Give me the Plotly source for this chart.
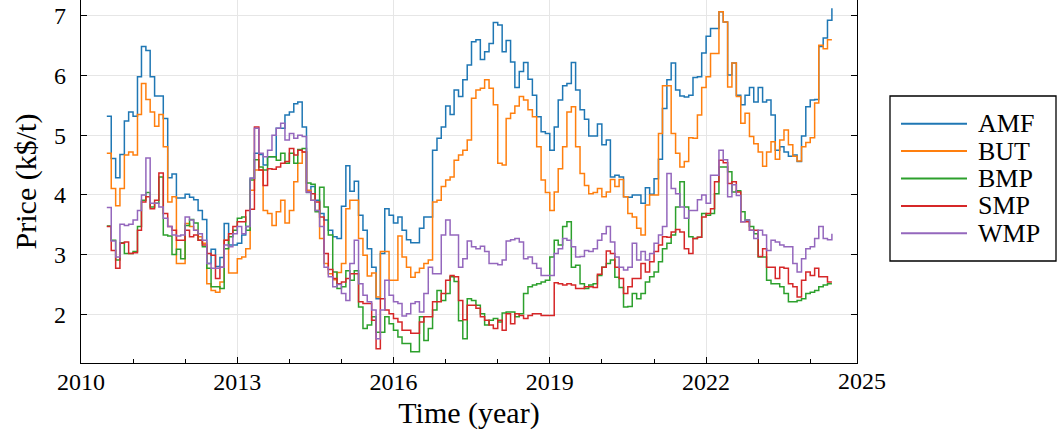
import pandas as pd
import plotly.graph_objects as go

# Monthly dairy commodity prices (k$/t), July 2010 to June 2024
START_MONTH = "2010-07-01"

amf = [5.32, 4.61, 4.29, 4.68, 5.24, 5.39, 5.32, 5.98, 6.49, 6.42, 5.98, 5.66, 5.66, 5.28, 4.29, 4.35, 3.95, 3.95, 4.01, 3.96, 3.92, 3.74, 3.59, 2.85, 3.09,
       2.80, 2.95, 3.52, 3.16, 3.16, 3.19, 3.33, 3.47, 4.28, 4.70, 4.68, 4.50, 4.64, 4.64, 5.12, 5.12, 5.34, 5.39, 5.53, 5.56, 5.14, 4.04, 4.14, 3.91, 3.69, 3.58, 3.41, 3.30, 3.27,
       3.81, 4.49, 4.06, 4.23, 3.66, 3.41, 3.10, 2.79, 2.26, 3.02, 3.77, 3.66, 3.53, 3.63, 3.41, 3.25, 3.20, 3.20, 3.44, 3.63, 3.63, 4.75, 4.95, 5.14, 5.49, 5.35, 5.76, 5.65, 5.93,
       6.18, 6.57, 6.60, 6.27, 6.40, 6.54, 6.89, 6.85, 6.40, 6.59, 6.23, 5.80, 6.07, 6.22, 5.94, 5.67, 5.31, 5.06, 5.03, 4.75, 5.14, 5.59, 5.83, 5.87, 6.22, 5.76, 5.43, 5.27,
       4.99, 4.99, 5.19, 4.84, 4.92, 4.30, 4.33, 4.30, 3.97, 3.96, 4.00, 4.00, 3.86, 4.12, 4.01, 4.27, 4.60, 5.45, 5.93, 6.21, 5.76, 5.66, 5.64, 5.67, 5.97, 5.98, 6.38, 6.66, 6.79,
       6.79, 7.07, 6.90, 6.01, 6.21, 5.67, 5.51, 5.67, 5.80, 5.56, 5.80, 5.56, 5.59, 5.34, 4.75, 4.81, 4.72, 4.65, 4.67, 4.56, 4.99, 5.48, 5.59, 5.60, 6.49, 6.63, 6.93, 7.13]

but = [4.70, 4.11, 3.82, 4.11, 4.67, 4.72, 4.67, 5.35, 5.87, 5.60, 5.39, 5.15, 5.35, 4.81, 3.88, 3.97, 2.85, 2.85, 3.52, 3.47, 3.41, 3.30, 3.19, 2.51, 2.40,
       2.37, 2.54, 3.24, 2.69, 2.69, 2.93, 2.96, 3.10, 4.08, 4.42, 4.42, 3.74, 3.69, 3.49, 3.72, 3.91, 3.53, 3.74, 4.22, 4.53, 4.72, 4.08, 3.91, 3.74, 3.27, 2.85, 2.68, 2.58, 2.70,
       2.85, 3.77, 3.91, 3.91, 3.27, 2.99, 2.64, 2.69, 2.29, 3.05, 3.05, 2.57, 2.57, 3.31, 2.96, 2.79, 2.62, 2.70, 2.77, 2.85, 2.91, 3.88, 3.91, 4.14, 4.25, 4.30, 4.58, 4.67, 4.75,
       4.92, 5.62, 5.76, 5.79, 5.93, 5.79, 5.51, 4.53, 4.50, 5.28, 5.37, 5.49, 5.65, 5.59, 5.43, 5.31, 4.81, 4.25, 4.04, 3.74, 4.05, 4.44, 4.81, 5.39, 5.48, 4.81, 4.36, 4.16,
       4.02, 4.04, 4.11, 3.97, 4.05, 4.26, 4.14, 4.26, 3.97, 3.69, 3.63, 3.44, 3.33, 3.83, 4.00, 4.00, 5.03, 5.83, 5.83, 5.03, 4.70, 4.47, 4.56, 4.96, 4.95, 5.34, 5.80, 5.98, 6.37,
       6.37, 7.07, 6.90, 5.81, 6.21, 5.65, 5.20, 5.37, 4.98, 4.86, 4.72, 4.48, 4.72, 4.89, 4.60, 4.92, 5.09, 4.84, 4.65, 4.57, 4.81, 4.88, 4.96, 5.54, 6.51, 6.45, 6.60, 6.60]

bmp = [3.48, 3.24, 2.91, 3.20, 3.02, 3.02, 3.05, 3.47, 3.91, 4.04, 3.80, 3.86, 4.30, 3.33, 3.31, 3.00, 3.09, 2.93, 3.49, 3.59, 3.53, 3.24, 3.13, 2.77, 2.46,
       2.46, 2.43, 3.10, 3.30, 3.41, 3.61, 3.63, 3.41, 4.25, 4.59, 4.47, 4.42, 4.64, 4.64, 4.58, 4.70, 4.53, 4.70, 4.53, 4.76, 4.78, 4.20, 4.18, 3.72, 4.13, 3.80, 3.33, 2.71, 2.43,
       2.46, 2.73, 2.57, 2.73, 2.12, 1.76, 1.82, 1.96, 1.70, 1.70, 1.96, 1.84, 1.73, 1.62, 1.51, 1.51, 1.37, 1.37, 1.96, 1.56, 1.76, 2.07, 2.40, 2.23, 2.35, 2.63, 2.55, 1.89, 1.59,
       2.26, 2.23, 2.15, 2.01, 1.82, 1.90, 1.93, 1.87, 2.02, 2.04, 2.04, 1.96, 2.01, 2.35, 2.46, 2.49, 2.51, 2.54, 2.57, 2.96, 3.24, 3.16, 3.47, 3.55, 2.79, 2.82, 2.51, 2.43,
       2.49, 2.51, 2.65, 2.79, 2.85, 2.91, 2.62, 2.45, 2.12, 2.13, 2.35, 2.26, 2.35, 2.54, 2.63, 2.71, 2.88, 3.10, 3.19, 3.33, 3.80, 4.22, 3.80, 3.30, 3.27, 3.29, 3.69, 3.66, 3.69,
       4.02, 4.47, 4.47, 4.39, 4.05, 4.07, 3.72, 3.58, 3.47, 3.35, 2.96, 2.96, 2.57, 2.51, 2.51, 2.46, 2.35, 2.21, 2.21, 2.23, 2.26, 2.35, 2.37, 2.40, 2.46, 2.49, 2.51, 2.51]

smp = [3.47, 3.07, 2.77, 3.19, 3.21, 3.02, 3.03, 3.41, 3.88, 3.97, 3.77, 3.91, 4.37, 3.69, 3.47, 3.41, 3.24, 3.24, 3.41, 3.30, 3.33, 3.24, 3.16, 3.02, 2.99,
       2.60, 2.79, 3.24, 3.35, 3.47, 3.55, 3.55, 3.74, 3.76, 5.14, 4.42, 4.16, 4.44, 4.43, 4.47, 4.53, 4.56, 4.78, 4.67, 4.75, 4.72, 4.05, 4.02, 3.88, 3.63, 3.02, 2.75, 2.60, 2.51,
       2.54, 2.60, 2.68, 2.68, 2.21, 2.18, 2.18, 1.90, 1.42, 2.26, 2.07, 2.01, 1.93, 1.87, 1.73, 1.73, 1.68, 1.68, 1.87, 1.96, 1.96, 2.21, 2.21, 2.35, 2.57, 2.65, 2.63, 2.23, 1.91,
       2.15, 2.15, 2.10, 1.96, 1.90, 1.82, 1.76, 1.90, 1.73, 2.01, 1.84, 2.01, 1.98, 1.93, 1.98, 2.01, 2.01, 1.98, 1.98, 1.98, 2.53, 2.51, 2.49, 2.51, 2.49, 2.43, 2.43, 2.46,
       2.46, 2.45, 2.67, 2.79, 3.06, 3.02, 2.79, 2.60, 2.35, 2.46, 2.60, 2.60, 2.85, 2.71, 2.88, 3.05, 3.16, 3.30, 3.29, 3.38, 3.42, 3.38, 3.10, 3.02, 3.27, 3.29, 3.63, 3.69, 3.77,
       4.22, 4.58, 4.54, 4.19, 4.22, 4.05, 3.55, 3.55, 3.41, 3.41, 2.97, 3.10, 2.79, 2.79, 2.60, 2.79, 2.77, 2.51, 2.46, 2.29, 2.57, 2.71, 2.65, 2.77, 2.63, 2.63, 2.54, 2.54]

wmp = [3.79, 3.23, 2.96, 3.51, 3.49, 3.51, 3.58, 3.74, 4.00, 4.62, 3.86, 3.86, 3.80, 3.61, 3.47, 3.33, 3.31, 3.33, 3.63, 3.58, 3.41, 3.35, 3.24, 2.85, 2.77,
       2.77, 2.79, 3.16, 3.13, 3.35, 3.47, 3.35, 3.47, 4.28, 5.12, 4.70, 4.64, 4.75, 5.00, 5.12, 5.20, 4.92, 5.03, 4.95, 5.00, 4.98, 4.05, 3.91, 3.74, 3.47, 2.79, 2.63, 2.46, 2.50,
       2.35, 2.23, 2.85, 3.24, 2.51, 2.32, 2.21, 2.07, 1.59, 2.07, 2.57, 2.32, 2.21, 2.18, 1.97, 2.01, 2.18, 2.21, 2.04, 2.35, 2.79, 2.68, 2.68, 3.33, 3.58, 3.33, 3.33, 2.79, 2.93,
       3.23, 3.13, 3.10, 3.14, 3.05, 2.85, 2.85, 2.83, 2.91, 3.23, 3.25, 3.27, 3.21, 2.93, 2.96, 2.85, 2.77, 2.65, 2.65, 2.65, 3.02, 3.10, 3.27, 3.24, 3.13, 2.96, 2.97, 3.07,
       3.05, 3.10, 3.24, 3.35, 3.47, 3.21, 2.96, 2.79, 2.74, 2.79, 3.19, 2.91, 3.05, 2.91, 3.02, 3.19, 3.33, 3.47, 4.36, 4.11, 4.02, 3.80, 3.61, 3.74, 3.74, 3.92, 4.00, 3.86, 4.33,
       4.33, 4.75, 4.59, 3.97, 4.17, 3.99, 3.55, 3.58, 3.41, 3.27, 3.41, 3.33, 3.07, 3.24, 3.21, 3.16, 3.13, 3.13, 2.85, 2.71, 2.93, 3.10, 3.13, 3.27, 3.47, 3.27, 3.25, 3.35]

names = ["AMF", "BUT", "BMP", "SMP", "WMP"]
colors = ["#1f77b4", "#ff7f0e", "#2ca02c", "#d62728", "#9467bd"]
values = [amf, but, bmp, smp, wmp]

months = pd.date_range(START_MONTH, periods=len(amf), freq="MS")

x_range = ["2010-01-01", "2024-11-24"]
y_range = [1.183, 7.268]
y_ticks = [2, 3, 4, 5, 6, 7]

FONT = "Liberation Serif"
GRID = "#e6e6e6"
TICK_SIZE = 24
TITLE_SIZE = 30

# Figure and plot-area geometry (pixels)
W, H = 1064, 441
M_L, M_R, M_T, M_B = 81, 207, 0, 78
PLOT_W = W - M_L - M_R
PLOT_H = H - M_T - M_B


def paper_x(px):
    return (px - M_L) / PLOT_W


def paper_y(py):
    return 1 - (py - M_T) / PLOT_H


fig = go.Figure()
for name, vals, color in zip(names, values, colors):
    fig.add_trace(go.Scatter(
        x=months, y=vals, name=name, mode="lines",
        line=dict(color=color, width=1.5, shape="hv"),
        showlegend=False,
    ))

fig.update_layout(
    width=W, height=H,
    margin=dict(l=M_L, r=M_R, t=M_T, b=M_B),
    paper_bgcolor="white", plot_bgcolor="white",
    font=dict(family=FONT, color="black", size=TICK_SIZE),
    xaxis=dict(
        type="date", range=x_range, tick0="2010-01-01", dtick="M36", tickformat="%Y",
        ticks="inside", ticklen=6, tickwidth=1, tickcolor="black",
        showline=True, linecolor="black", linewidth=1.3, mirror=False,
        showgrid=True, gridcolor=GRID, gridwidth=1, zeroline=False,
        minor=dict(dtick="M12", ticks="inside", ticklen=3.5, tickwidth=1, tickcolor="black", showgrid=False),
        tickfont=dict(family=FONT, size=TICK_SIZE), ticklabelstandoff=-3,
        title=dict(text="Time (year)", font=dict(family=FONT, size=TITLE_SIZE), standoff=8),
    ),
    xaxis2=dict(
        type="date", range=x_range, overlaying="x", side="top", anchor="y",
        tick0="2010-01-01", dtick="M36",
        ticks="inside", ticklen=6, tickwidth=1, tickcolor="black",
        showline=False, showgrid=False, zeroline=False, showticklabels=False,
        minor=dict(dtick="M12", ticks="inside", ticklen=3.5, tickwidth=1, tickcolor="black", showgrid=False),
    ),
    yaxis=dict(
        range=y_range, tickvals=y_ticks,
        ticks="inside", ticklen=6, tickwidth=1, tickcolor="black",
        showline=True, linecolor="black", linewidth=1.3, mirror="ticks",
        showgrid=True, gridcolor=GRID, gridwidth=1, zeroline=False,
        tickfont=dict(family=FONT, size=TICK_SIZE), ticklabelstandoff=9,
        title=dict(text="Price (k$/t)", font=dict(family=FONT, size=TITLE_SIZE), standoff=8),
    ),
)

# The last year label sits just past the right edge of the time axis
x0 = pd.Timestamp(x_range[0])
x1 = pd.Timestamp(x_range[1])
frac_2025 = (pd.Timestamp("2025-01-01") - x0) / (x1 - x0)
fig.add_annotation(
    x=frac_2025, xref="paper", xanchor="center", y=0, yref="paper", yanchor="top",
    text="2025", showarrow=False, yshift=-3,
    font=dict(family=FONT, size=TICK_SIZE, color="black"),
)

# Legend panel to the right of the plot
LEG_LEFT, LEG_RIGHT, LEG_TOP, LEG_BOTTOM = 890, 1056, 96, 261
LEG_ROW0, LEG_ROW_STEP = 123.7, 27.4
LEG_LINE_X0, LEG_LINE_X1, LEG_TEXT_X = 901, 967, 976
LEG_FONT_SIZE = 26

fig.add_shape(
    type="rect", xref="paper", yref="paper",
    x0=paper_x(LEG_LEFT), x1=paper_x(LEG_RIGHT),
    y0=paper_y(LEG_BOTTOM), y1=paper_y(LEG_TOP),
    line=dict(color="black", width=1.3), fillcolor="white", layer="above",
)
for i, (name, color) in enumerate(zip(names, colors)):
    row_y = paper_y(LEG_ROW0 + i * LEG_ROW_STEP)
    fig.add_shape(
        type="line", xref="paper", yref="paper",
        x0=paper_x(LEG_LINE_X0), x1=paper_x(LEG_LINE_X1), y0=row_y, y1=row_y,
        line=dict(color=color, width=2), layer="above",
    )
    fig.add_annotation(
        x=paper_x(LEG_TEXT_X), xref="paper", xanchor="left",
        y=row_y, yref="paper", yanchor="middle",
        text=name, showarrow=False,
        font=dict(family=FONT, size=LEG_FONT_SIZE, color="black"),
    )

fig.write_html("out.html")
